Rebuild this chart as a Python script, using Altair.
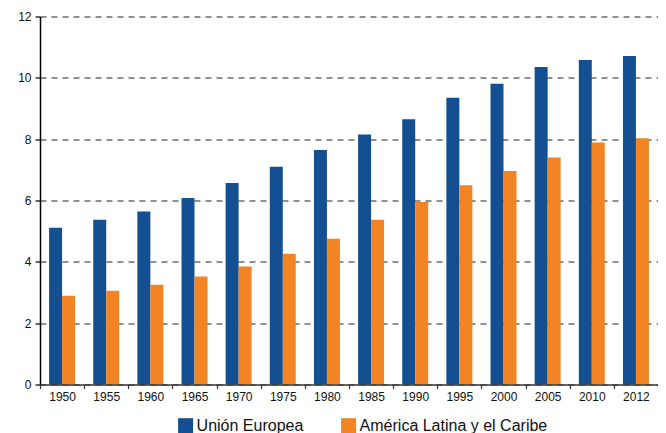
import altair as alt
import pandas as pd

years = ["1950", "1955", "1960", "1965", "1970", "1975", "1980", "1985",
         "1990", "1995", "2000", "2005", "2010", "2012"]
union_europea = [5.11, 5.37, 5.64, 6.08, 6.57, 7.10, 7.65, 8.15,
                 8.65, 9.35, 9.81, 10.35, 10.58, 10.71]
america_latina = [2.89, 3.06, 3.25, 3.52, 3.85, 4.26, 4.75, 5.37,
                  5.95, 6.50, 6.96, 7.40, 7.89, 8.03]
series = ["Unión Europea", "América Latina y el Caribe"]
colors = ["#134f91", "#f28424"]

rows = []
for i, y in enumerate(years):
    rows.append({"year": y, "serie": series[0], "value": union_europea[i]})
    rows.append({"year": y, "serie": series[1], "value": america_latina[i]})
df = pd.DataFrame(rows)

FONT = "Liberation Sans"

chart = alt.Chart(df).mark_bar().encode(
    x=alt.X("year:N", sort=years,
            scale=alt.Scale(paddingInner=0, paddingOuter=0),
            axis=alt.Axis(title=None, labelAngle=0, tickBand="extent",
                          domainColor="#333333", domainWidth=1.5,
                          tickColor="#333333", tickSize=4, tickWidth=1.2,
                          labelFontSize=12, labelColor="#111111",
                          labelPadding=2.5, labelFont=FONT, zindex=1)),
    xOffset=alt.XOffset("serie:N", sort=series,
                        scale=alt.Scale(paddingInner=0, paddingOuter=0.7)),
    y=alt.Y("value:Q",
            scale=alt.Scale(domain=[0, 12], nice=False),
            axis=alt.Axis(title=None, values=[0, 2, 4, 6, 8, 10, 12],
                          grid=True, gridDash=[6, 5], gridColor="#6e6e6e",
                          gridWidth=1.5, domainColor="#000000", domainWidth=1.5,
                          tickColor="#000000", tickSize=5, tickWidth=1.2,
                          labelFontSize=12, labelColor="#111111",
                          labelPadding=4, labelFont=FONT)),
    color=alt.Color("serie:N", sort=series,
                    scale=alt.Scale(domain=series, range=colors),
                    legend=alt.Legend(title=None, orient="none",
                                      direction="horizontal",
                                      legendX=137.6, legendY=401.2,
                                      symbolType="square", symbolSize=225,
                                      symbolStrokeWidth=0, labelOffset=3,
                                      labelFontSize=16, labelFont=FONT,
                                      labelColor="#111111", columnPadding=37,
                                      labelLimit=0, padding=0)),
).properties(
    width=618,
    height=368,
    autosize=alt.AutoSizeParams(type="none"),
    padding={"left": 32, "top": 8.5, "right": 0, "bottom": 48.5},
).configure_view(stroke=None)

chart.save("out.html", embed_options={"renderer": "svg", "actions": False})
